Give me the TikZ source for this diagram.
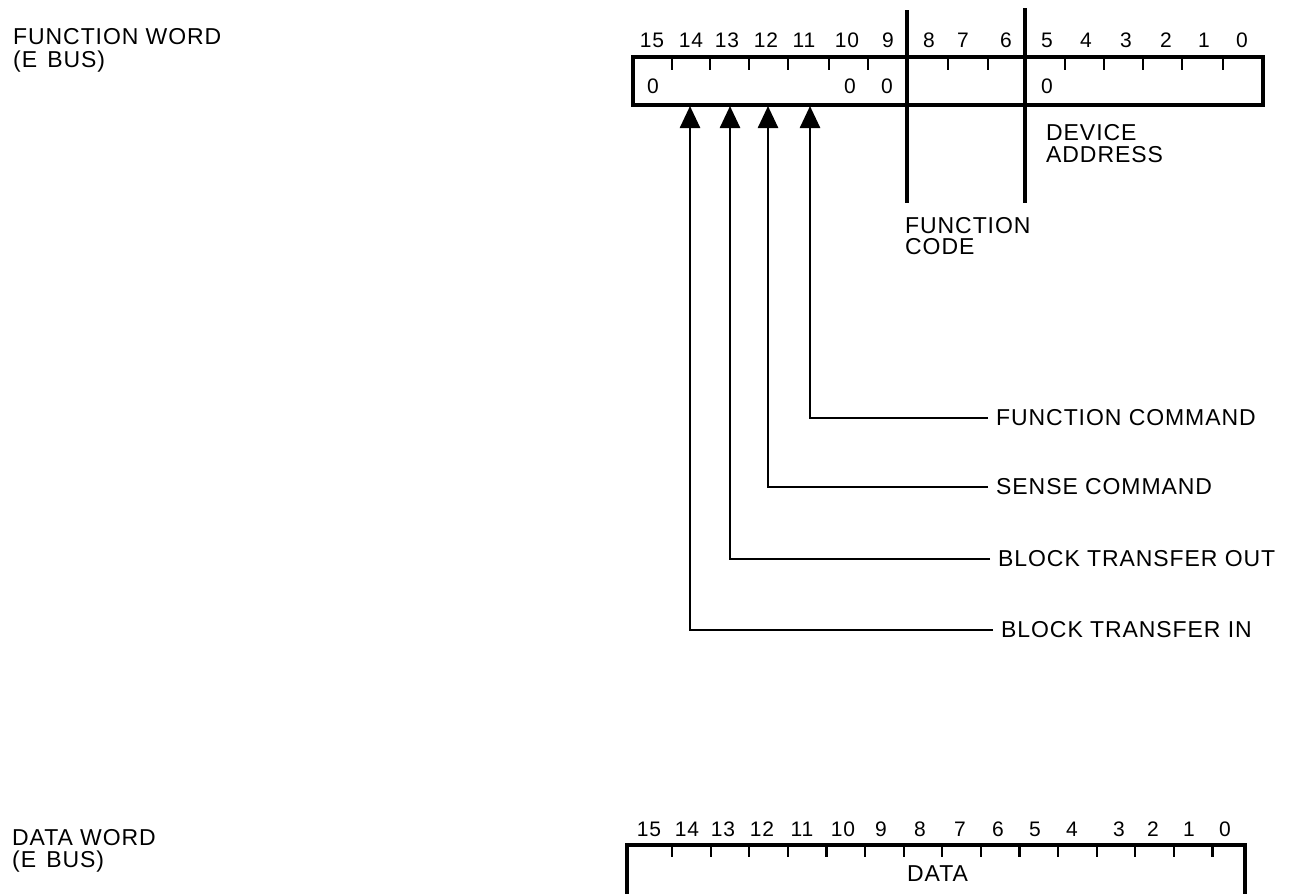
\documentclass[tikz,border=0pt]{standalone}
\usepackage{fontspec}
\setmainfont{Liberation Sans}[LetterSpace=4]
\usetikzlibrary{arrows.meta}
\begin{document}
\begin{tikzpicture}[x=1pt,y=-1pt,
  lbl/.style={inner sep=0pt, font=\fontsize{23}{23}\selectfont, anchor=base west},
  bitnum/.style={inner sep=0pt, font=\fontsize{21}{21}\selectfont, anchor=base},
  box/.style={line width=3.2pt},
  tickmark/.style={line width=2.2pt},
  sepline/.style={line width=3.6pt},
  cmd/.style={inner xsep=8pt, inner ysep=0pt, font=\fontsize{23}{23}\selectfont, anchor=west},
  conn/.style={line width=2.6pt, -{Triangle[length=22pt,width=20pt]}}]
\useasboundingbox (0,0) rectangle (1299,894);
\fill[white] (0,0) rectangle (1299,894);

% ---------- function word ----------
\node[lbl] (fw1) at (13,44) {FUNCTION WORD};
\node[lbl] (fw2) at (13,67) {(E\hspace{3pt} BUS)};

\foreach \n/\x in {15/652,14/691,13/727,12/766,11/804,10/847,9/888,8/929,7/963,6/1006,5/1047,4/1086,3/1126,2/1166,1/1204,0/1242}
  \node[bitnum] (tn\n) at (\x,47) {\n};

\draw[box] (633,57) rectangle (1263,105);
\foreach \x in {672,710,749,788,829,868,948,988,1065,1104,1143,1182,1223}
  \draw[tickmark] (\x,57) -- (\x,70);
\draw[sepline] (907,10) -- (907,203);
\draw[sepline] (1025,8) -- (1025,203);

\node[bitnum] (z15) at (653,93) {0};
\node[bitnum] (z10) at (850,93) {0};
\node[bitnum] (z9) at (887,93) {0};
\node[bitnum] (z5) at (1047,93) {0};

\node[lbl] (da1) at (1046,140) {DEVICE};
\node[lbl] (da2) at (1046,162) {ADDRESS};
\node[lbl] (fc1) at (905,233) {FUNCTION};
\node[lbl] (fc2) at (905,254) {CODE};

\coordinate (b14) at (690,106);
\coordinate (b13) at (730,106);
\coordinate (b12) at (768,106);
\coordinate (b11) at (810,106);

\node[cmd] (fcmd) at (988,418) {FUNCTION COMMAND};
\node[cmd] (scmd) at (988,487) {SENSE COMMAND};
\node[cmd] (bto) at (990,559) {BLOCK TRANSFER OUT};
\node[cmd] (bti) at (993,630) {BLOCK TRANSFER IN};

\draw[conn] (fcmd.west) -| (b11);
\draw[conn] (scmd.west) -| (b12);
\draw[conn] (bto.west) -| (b13);
\draw[conn] (bti.west) -| (b14);

% ---------- data word ----------
\node[lbl] (dw1) at (12,845) {DATA WORD};
\node[lbl] (dw2) at (12,867) {(E\hspace{3pt} BUS)};

\foreach \n/\x in {15/649,14/687,13/723,12/762,11/802,10/843,9/881,8/920,7/960,6/998,5/1035,4/1072,3/1119,2/1153,1/1189,0/1225}
  \node[bitnum] (bn\n) at (\x,836) {\n};

\draw[box] (627,905) -- (627,845) -- (1245,845) -- (1245,905);
\foreach \i in {0,...,14}
  \draw[tickmark] ({672+38.6*\i},845) -- ++(0,12);
\node[lbl] (data) at (907,881) {DATA};
\end{tikzpicture}
\end{document}
